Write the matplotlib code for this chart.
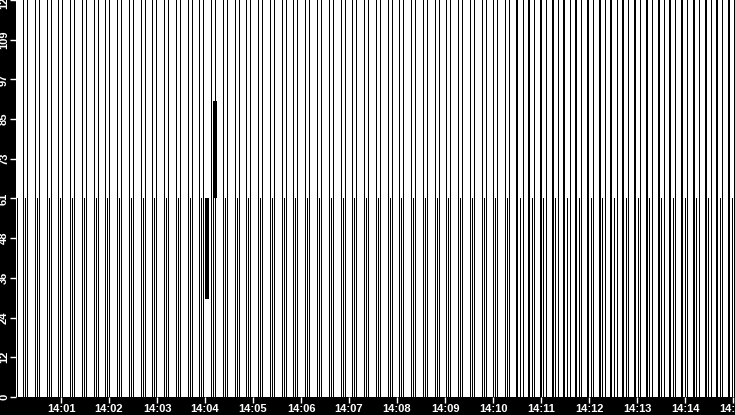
import numpy as np
import matplotlib
matplotlib.use("Agg")
import matplotlib.pyplot as plt

# start time of each burst, seconds after 14:00
group_times = [12.5, 27.2, 41.9, 56.6, 71.3, 86.0, 100.7, 115.4, 130.1, 144.8,
               159.5, 174.2, 188.9, 203.6, 218.3, 233.0, 247.7, 262.4, 277.1, 291.8,
               306.5, 321.2, 335.9, 350.6, 365.3, 380.0, 394.7, 409.4, 424.1, 438.8,
               453.5, 468.2, 482.9, 497.6, 512.3, 527.0, 541.7, 556.4, 571.1, 585.8,
               600.5, 615.2, 629.9, 644.6, 659.3, 674.0, 688.7, 703.4, 718.1, 732.8,
               747.5, 762.2, 776.9, 791.6, 806.3, 821.0, 835.7, 850.4, 865.1, 879.8,
               894.5]
# burst shape before / after ~14:10
early_offsets = [0.0, 2.5, 5.0]
early_heights = [122, 61, 122]
late_offsets = [0.6, 3.8, 7.0]
late_heights = [122, 61, 122]
late_from = 42

# odd segments
extra_x = [4.5, 242.0, 253.0]
extra_lo = [0, 30, 61]
extra_hi = [61, 61, 91]

ytick_vals = [122 * k / 10 for k in range(11)]
ytick_labels = [str(int(v)) for v in ytick_vals]
xtick_vals = [60 * k for k in range(1, 16)]
xtick_labels = ["14:%02d" % k for k in range(1, 16)]

THIN = 0.5   # ~1 px
MID = 1.2    # ~2 px
THICK = 1.5

xs, hs, ws = [], [], []
for i, t in enumerate(group_times):
    if i < late_from:
        offs, hts = early_offsets, early_heights
        wid = [THIN, THIN, THIN]
    else:
        offs, hts = late_offsets, late_heights
        wid = [MID, THIN, THIN]
    for o, h, w in zip(offs, hts, wid):
        xs.append(t + o)
        hs.append(h)
        ws.append(w)

plt.rcParams["font.family"] = ["Liberation Sans", "DejaVu Sans"]

fig = plt.figure(figsize=(7.35, 4.15), dpi=100, facecolor="black")
ax = fig.add_axes([16 / 735, 18 / 415, 719 / 735, 397 / 415])
ax.set_facecolor("white")

ax.vlines(xs, 0, hs, colors="black", linewidths=ws, antialiased=False)
ax.vlines(extra_x, extra_lo, extra_hi, colors="black",
          linewidths=[THIN, THICK, THICK], antialiased=False)

ax.set_xlim(3.75, 902.5)
ax.set_ylim(0, 122)
ax.set_yticks(ytick_vals)
ax.set_yticklabels(ytick_labels)
ax.set_xticks(xtick_vals)
ax.set_xticklabels(xtick_labels)
ax.tick_params(colors="white", length=4, width=1, labelsize=8, pad=1)
ax.tick_params(axis="y", labelrotation=90)
for lab in ax.get_yticklabels() + ax.get_xticklabels():
    lab.set_fontweight("bold")
for lab in ax.get_yticklabels():
    lab.set_verticalalignment("center")
for s in ax.spines.values():
    s.set_visible(False)

fig.savefig("out.png", dpi=100, facecolor="black")
